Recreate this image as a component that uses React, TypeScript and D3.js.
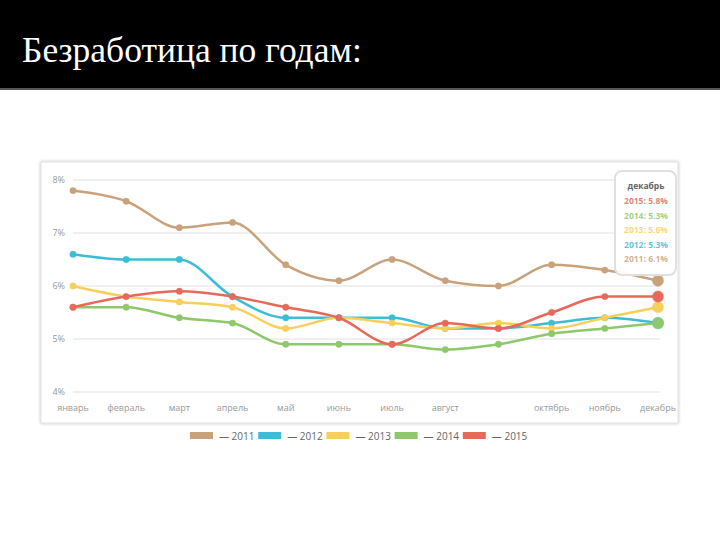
import React from "react";
import * as d3 from "d3";

const months = ["январь","февраль","март","апрель","май","июнь","июль","август","сентябрь","октябрь","ноябрь","декабрь"];
const shownLabels = ["январь","февраль","март","апрель","май","июнь","июль","август","","октябрь","ноябрь","декабрь"];
const years = ["2011","2012","2013","2014","2015"];
const colors = ["#c9a27c","#3bbdd6","#f8cf5a","#8ec86b","#e8695a"];
const v2011 = [7.8,7.6,7.1,7.2,6.4,6.1,6.5,6.1,6.0,6.4,6.3,6.1];
const v2012 = [6.6,6.5,6.5,5.8,5.4,5.4,5.4,5.2,5.2,5.3,5.4,5.3];
const v2013 = [6.0,5.8,5.7,5.6,5.2,5.4,5.3,5.2,5.3,5.2,5.4,5.6];
const v2014 = [5.6,5.6,5.4,5.3,4.9,4.9,4.9,4.8,4.9,5.1,5.2,5.3];
const v2015 = [5.6,5.8,5.9,5.8,5.6,5.4,4.9,5.3,5.2,5.5,5.8,5.8];
const yTicks = [4,5,6,7,8];
const series = [v2011, v2012, v2013, v2014, v2015];

export default function App() {
  const x = d3.scalePoint<string>().domain(months).range([73, 658]);
  const y = d3.scaleLinear().domain([4, 8]).range([392, 180]);
  const line = d3.line<number>().x((_, i) => x(months[i])!).y(d => y(d)).curve(d3.curveMonotoneX);
  const font = "'Open Sans', sans-serif";
  const tipOrder = [4, 3, 2, 1, 0];
  return (
    <svg width={720} height={540} style={{ position: "absolute", left: 0, top: 0 }}>
      <defs>
        <filter id="sh" x="-5%" y="-5%" width="110%" height="110%">
          <feDropShadow dx="0" dy="0" stdDeviation="1.5" floodColor="#000" floodOpacity="0.28" />
        </filter>
      </defs>
      <rect x={0} y={0} width={720} height={540} fill="#fff" />
      <rect x={0} y={0} width={720} height={89} fill="#000" />
      <rect x={0} y={88} width={720} height={2} fill="#555" />
      <text x={22} y={62} fill="#fff" fontFamily="'Liberation Serif', 'Times New Roman', serif" fontSize={35.5}>Безработица по годам:</text>

      <rect x={41} y={162} width={637} height={261} fill="#fff" stroke="#e0e0e0" strokeWidth={1} filter="url(#sh)" />

      {yTicks.map(t => (
        <g key={t}>
          <line x1={73} x2={660} y1={y(t)} y2={y(t)} stroke="#ebebeb" strokeWidth={1.5} />
          <text x={65} y={y(t) + 3} textAnchor="end" fontFamily={font} fontSize={9} fill="#999">{t}%</text>
        </g>
      ))}
      {months.map((m, i) => (
        <text key={m} x={x(m)!} y={411} textAnchor="middle" fontFamily={font} fontSize={9} fill="#999">{shownLabels[i]}</text>
      ))}

      {series.map((s, k) => (
        <g key={years[k]}>
          <path d={line(s)!} fill="none" stroke={colors[k]} strokeWidth={2.5} strokeLinejoin="round" />
          {s.map((v, i) => (
            <circle key={i} cx={x(months[i])!} cy={y(v)} r={i === s.length - 1 ? 5.5 : 3.2} fill={colors[k]} stroke={colors[k]} strokeOpacity={0.4} strokeWidth={i === s.length - 1 ? 1.5 : 1} />
          ))}
        </g>
      ))}

      <rect x={615} y={171} width={61} height={104} rx={7} fill="#fff" fillOpacity={0.92} stroke="#e0e0e0" strokeWidth={2} />
      <text x={646} y={189} textAnchor="middle" fontFamily={font} fontSize={8.5} fontWeight="bold" fill="#666">декабрь</text>
      {tipOrder.map((k, j) => (
        <text key={k} x={646} y={204 + j * 14.5} textAnchor="middle" fontFamily={font} fontSize={8.5} fontWeight="bold" fill={colors[k]} fillOpacity={0.85}>
          {years[k]}: {series[k][11].toFixed(1)}%
        </text>
      ))}

      {years.map((yr, k) => (
        <g key={yr} transform={`translate(${190 + k * 68.2},0)`}>
          <rect x={0} y={432} width={23} height={7} fill={colors[k]} />
          <text x={29} y={439.5} fontFamily={font} fontSize={10} fill="#666">— {yr}</text>
        </g>
      ))}
    </svg>
  );
}
